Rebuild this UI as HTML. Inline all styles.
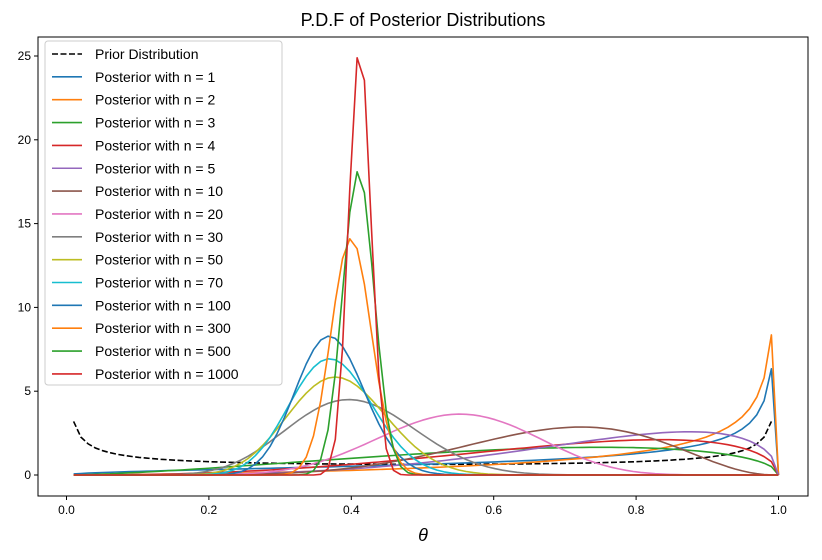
<!DOCTYPE html>
<html><head><meta charset="utf-8"><style>
body{margin:0;background:#fff;}
svg text{font-family:"Liberation Sans","DejaVu Sans",sans-serif;}
</style></head><body>
<svg id="s" width="822" height="555" viewBox="0 0 822 555" xmlns="http://www.w3.org/2000/svg">
<rect width="822" height="555" fill="#fff"/>
<text x="423" y="26" font-size="18" text-anchor="middle">P.D.F of Posterior Distributions</text>
<g id="curves"></g>
<rect x="38" y="37" width="770" height="459" fill="none" stroke="#000" stroke-width="1"/>
<g font-size="12" text-anchor="middle">
<line x1="66.5" y1="496" x2="66.5" y2="500" stroke="#000"/><text x="66.5" y="514">0.0</text>
<line x1="208.9" y1="496" x2="208.9" y2="500" stroke="#000"/><text x="208.9" y="514">0.2</text>
<line x1="351.3" y1="496" x2="351.3" y2="500" stroke="#000"/><text x="351.3" y="514">0.4</text>
<line x1="493.7" y1="496" x2="493.7" y2="500" stroke="#000"/><text x="493.7" y="514">0.6</text>
<line x1="636.1" y1="496" x2="636.1" y2="500" stroke="#000"/><text x="636.1" y="514">0.8</text>
<line x1="778.5" y1="496" x2="778.5" y2="500" stroke="#000"/><text x="778.5" y="514">1.0</text>
</g>
<g font-size="12" text-anchor="end">
<line x1="34" y1="475" x2="38" y2="475" stroke="#000"/><text x="31" y="479">0</text>
<line x1="34" y1="391.2" x2="38" y2="391.2" stroke="#000"/><text x="31" y="395.2">5</text>
<line x1="34" y1="307.4" x2="38" y2="307.4" stroke="#000"/><text x="31" y="311.4">10</text>
<line x1="34" y1="223.6" x2="38" y2="223.6" stroke="#000"/><text x="31" y="227.6">15</text>
<line x1="34" y1="139.8" x2="38" y2="139.8" stroke="#000"/><text x="31" y="143.8">20</text>
<line x1="34" y1="56" x2="38" y2="56" stroke="#000"/><text x="31" y="60">25</text>
</g>
<text x="423" y="541" font-size="18" font-style="italic" text-anchor="middle">θ</text>
<rect x="45" y="41" width="237" height="344" rx="3" fill="#fff" fill-opacity="0.8" stroke="#ccc"/>
<g id="leg" font-size="14"></g>
</svg>
<script>
function lg(z){var g=7,c=[0.99999999999980993,676.5203681218851,-1259.1392167224028,771.32342877765313,-176.61502916214059,12.507343278686905,-0.13857109526572012,9.9843695780195716e-6,1.5056327351493116e-7];
if(z<0.5)return Math.log(Math.PI/Math.sin(Math.PI*z))-lg(1-z);z-=1;var x=c[0];for(var i=1;i<g+2;i++)x+=c[i]/(z+i);var t=z+g+0.5;return 0.5*Math.log(2*Math.PI)+(z+0.5)*Math.log(t)-t+Math.log(x);}
function bp(x,a,b){if(x<=0||x>=1)return 0;return Math.exp((a-1)*Math.log(x)+(b-1)*Math.log(1-x)+lg(a+b)-lg(a)-lg(b));}
var X=function(t){return 66.5+712*t},Y=function(v){return 475-16.76*v};
var ser=[[1,1,"#1f77b4"],[2,2,"#ff7f0e"],[3,2,"#2ca02c"],[4,3,"#d62728"],[5,4,"#9467bd"],[10,7,"#8c564b"],[20,11,"#e377c2"],[30,12,"#7f7f7f"],[50,19,"#bcbd22"],[70,26,"#17becf"],[100,37,"#1f77b4"],[300,120,"#ff7f0e"],[500,205,"#2ca02c"],[1000,412,"#d62728"]];
var grid=[];for(var i=0;i<97;i++)grid.push(0.01+i*(0.99-0.01)/96);
var g=document.getElementById("curves"),h="";
var p=grid.map(function(t){return X(t).toFixed(1)+","+Y(bp(t,0.5,0.5)).toFixed(1)});
h+='<polyline fill="none" stroke="#000" stroke-width="1.6" stroke-dasharray="6,2.5" points="'+p.join(" ")+'"/>';
ser.forEach(function(s){var p=grid.map(function(t){return X(t).toFixed(1)+","+Y(bp(t,0.5+s[1],0.5+s[0]-s[1])).toFixed(1)});
p.push(X(1).toFixed(1)+","+Y(0));
h+='<polyline fill="none" stroke="'+s[2]+'" stroke-width="1.6" stroke-linejoin="round" points="'+p.join(" ")+'"/>';});
g.innerHTML=h;
var L=document.getElementById("leg"),lh="";
var labs=["Prior Distribution"].concat(ser.map(function(s){return "Posterior with n = "+s[0]}));
labs.forEach(function(l,i){var y=54+i*22.85;var c=i==0?"#000":ser[i-1][2];
lh+='<line x1="52" x2="82" y1="'+y+'" y2="'+y+'" stroke="'+c+'" stroke-width="1.6"'+(i==0?' stroke-dasharray="6,2.5"':'')+'/>';
lh+='<text x="95" y="'+(y+5)+'">'+l+'</text>';});
L.innerHTML=lh;
</script>
</body></html>
